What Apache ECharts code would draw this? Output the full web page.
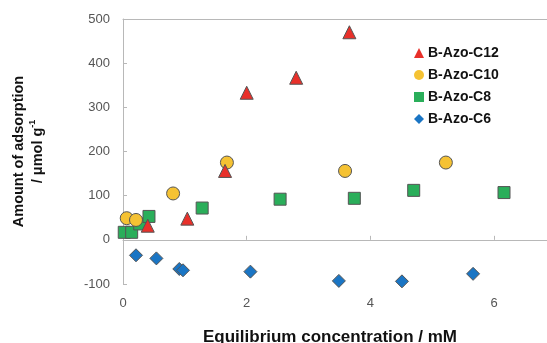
<!DOCTYPE html>
<html>
<head>
<meta charset="utf-8">
<script src="https://cdn.jsdelivr.net/npm/echarts@6/dist/echarts.min.js"></script>
<style>html,body{margin:0;padding:0;background:#fff}#c{width:547px;height:343px}</style>
</head>
<body>
<div id="c"></div>
<script>
var seriesNames = ['B-Azo-C12', 'B-Azo-C10', 'B-Azo-C8', 'B-Azo-C6'];
var c12 = [[0.40, 32], [1.04, 48], [1.65, 156], [2.00, 333], [2.80, 367], [3.66, 470]];
var c10 = [[0.06, 49], [0.21, 45], [0.81, 105], [1.68, 175], [3.59, 156], [5.22, 175]];
var c8 = [[0.02, 17], [0.14, 17], [0.27, 36], [0.42, 53], [1.28, 72], [2.54, 92], [3.74, 94], [4.70, 112], [6.16, 107]];
var c6 = [[0.21, -35], [0.54, -42], [0.91, -66], [0.97, -69], [2.06, -72], [3.49, -93], [4.51, -94], [5.66, -77]];
var xTicks = [0, 2, 4, 6];
var yTicks = [-100, 0, 100, 200, 300, 400, 500];

var colors = ['#e8302a', '#f5c233', '#2aae5a', '#1a75c4'];
var symbols = ['triangle', 'circle', 'rect', 'diamond'];
var sizes = [13, 13, 12, 13];
var datas = [c12, c10, c8, c6];

var chart = echarts.init(document.getElementById('c'), null, {renderer: 'canvas'});
var series = seriesNames.map(function (n, i) {
  return {
    name: n, type: 'scatter', data: datas[i], symbol: symbols[i], symbolSize: sizes[i],
    itemStyle: {color: colors[i], borderColor: '#555', borderWidth: 1, opacity: 1},
    z: 10 - i
  };
});
var axisColor = '#b8b8b8';
var xMax = 6.855;
chart.setOption({
  animation: false,
  backgroundColor: '#fff',
  grid: {left: 123, right: 0, top: 19, bottom: 59, show: false, containLabel: false, outerBoundsMode: 'none'},
  legend: {
    orient: 'vertical', left: 409, top: 41, itemGap: 8, itemWidth: 10, itemHeight: 10,
    textStyle: {fontFamily: 'Liberation Sans', fontWeight: 'bold', fontSize: 14, color: '#111', padding: [0, 0, 0, -1]},
    data: seriesNames.map(function (n) { return {name: n, itemStyle: {borderWidth: 0}}; })
  },
  xAxis: [{
    type: 'value', min: 0, max: xMax, interval: 2,
    axisLine: {show: true, lineStyle: {color: axisColor}},
    axisTick: {show: true, inside: true, length: 4, lineStyle: {color: axisColor}},
    axisLabel: {color: '#555', fontFamily: 'Liberation Sans', fontSize: 13, margin: 13,
      formatter: function (v) { return xTicks.indexOf(v) >= 0 ? String(v) : ''; }},
    splitLine: {show: false},
    name: 'Equilibrium concentration / mM', nameLocation: 'middle', nameGap: 45,
    nameTextStyle: {fontFamily: 'Liberation Sans', fontWeight: 'bold', fontSize: 17, color: '#111', padding: [0, 10, 0, 0]}
  }, {
    type: 'value', position: 'top', min: 0, max: xMax,
    axisLine: {show: true, lineStyle: {color: axisColor}},
    axisTick: {show: false}, axisLabel: {show: false}, splitLine: {show: false}
  }],
  yAxis: {
    type: 'value', min: -100, max: 500, interval: 100,
    axisLine: {show: true, lineStyle: {color: axisColor}},
    axisTick: {show: true, inside: true, length: 4, lineStyle: {color: axisColor}},
    axisLabel: {color: '#555', fontFamily: 'Liberation Sans', fontSize: 13, margin: 13,
      formatter: function (v) { return yTicks.indexOf(v) >= 0 ? String(v) : ''; }},
    splitLine: {show: false},
    name: 'Amount of adsorption\n/ \u03bcmol g{sup|-1}', nameLocation: 'middle', nameGap: 76,
    nameTextStyle: {fontFamily: 'Liberation Sans', fontWeight: 'bold', fontSize: 14.5, color: '#111', lineHeight: 19,
      rich: {sup: {fontFamily: 'Liberation Sans', fontWeight: 'bold', fontSize: 9, color: '#111', verticalAlign: 'top', lineHeight: 19, padding: [0, 0, 6, 0]}}}
  },
  series: series
});
</script>
</body>
</html>
